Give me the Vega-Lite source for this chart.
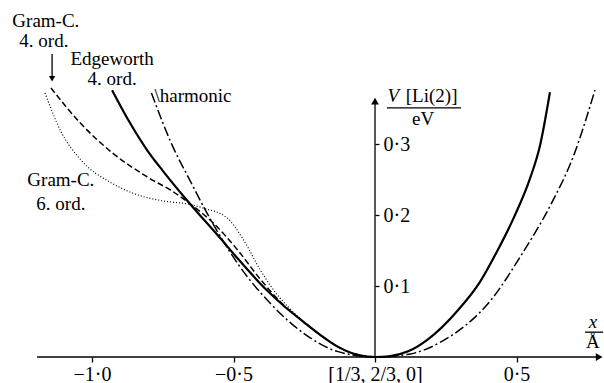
{
  "$schema": "https://vega.github.io/schema/vega-lite/v6.json",
  "width": 604,
  "height": 383,
  "autosize": {"type": "none"},
  "padding": 0,
  "background": "white",
  "config": {
    "view": {"stroke": null},
    "axis": {"grid": false, "labelFont": "Liberation Serif", "labelFontSize": 20, "labelColor": "black", "tickColor": "black", "tickWidth": 1.3, "domain": false}
  },
  "datasets": {
    "rules": [
      {"x": -1.194, "x2": 0.795, "y": 0, "y2": 0},
      {"x": 0, "x2": 0, "y": 0, "y2": 0.36},
      {"x": 0.042, "x2": 0.304, "y": 0.351, "y2": 0.351},
      {"x": 0.742, "x2": 0.806, "y": 0.035, "y2": 0.035},
      {"x": -1.141, "x2": -1.141, "y": 0.427, "y2": 0.392}
    ],
    "curves": [
      {"s": "edge", "x": -0.929, "y": 0.376},
      {"s": "edge", "x": -0.866, "y": 0.330},
      {"s": "edge", "x": -0.806, "y": 0.292},
      {"s": "edge", "x": -0.749, "y": 0.262},
      {"s": "edge", "x": -0.654, "y": 0.216},
      {"s": "edge", "x": -0.548, "y": 0.168},
      {"s": "edge", "x": -0.488, "y": 0.140},
      {"s": "edge", "x": -0.382, "y": 0.094},
      {"s": "edge", "x": -0.325, "y": 0.073},
      {"s": "edge", "x": -0.254, "y": 0.050},
      {"s": "edge", "x": -0.19, "y": 0.030},
      {"s": "edge", "x": -0.134, "y": 0.015},
      {"s": "edge", "x": -0.078, "y": 0.005},
      {"s": "edge", "x": -0.03, "y": 0.0007},
      {"s": "edge", "x": 0, "y": 0},
      {"s": "edge", "x": 0.05, "y": 0.001},
      {"s": "edge", "x": 0.117, "y": 0.008},
      {"s": "edge", "x": 0.187, "y": 0.025},
      {"s": "edge", "x": 0.293, "y": 0.066},
      {"s": "edge", "x": 0.371, "y": 0.106},
      {"s": "edge", "x": 0.43, "y": 0.148},
      {"s": "edge", "x": 0.49, "y": 0.196},
      {"s": "edge", "x": 0.548, "y": 0.252},
      {"s": "edge", "x": 0.583, "y": 0.298},
      {"s": "edge", "x": 0.618, "y": 0.373},
      {"s": "harm", "x": -0.79, "y": 0.372},
      {"s": "harm", "x": -0.714, "y": 0.296},
      {"s": "harm", "x": -0.654, "y": 0.249},
      {"s": "harm", "x": -0.594, "y": 0.203},
      {"s": "harm", "x": -0.477, "y": 0.127},
      {"s": "harm", "x": -0.371, "y": 0.076},
      {"s": "harm", "x": -0.254, "y": 0.034},
      {"s": "harm", "x": -0.134, "y": 0.008},
      {"s": "harm", "x": 0, "y": 0},
      {"s": "harm", "x": 0.12, "y": 0.004},
      {"s": "harm", "x": 0.236, "y": 0.022},
      {"s": "harm", "x": 0.413, "y": 0.082},
      {"s": "harm", "x": 0.519, "y": 0.145},
      {"s": "harm", "x": 0.62, "y": 0.214},
      {"s": "harm", "x": 0.70, "y": 0.282},
      {"s": "harm", "x": 0.777, "y": 0.376},
      {"s": "gc4", "x": -1.145, "y": 0.379},
      {"s": "gc4", "x": -1.042, "y": 0.330},
      {"s": "gc4", "x": -0.926, "y": 0.287},
      {"s": "gc4", "x": -0.806, "y": 0.254},
      {"s": "gc4", "x": -0.714, "y": 0.233},
      {"s": "gc4", "x": -0.654, "y": 0.216},
      {"s": "gc4", "x": -0.572, "y": 0.189},
      {"s": "gc4", "x": -0.488, "y": 0.152},
      {"s": "gc4", "x": -0.406, "y": 0.110},
      {"s": "gc4", "x": -0.33, "y": 0.076},
      {"s": "gc4", "x": -0.254, "y": 0.050},
      {"s": "gc4", "x": -0.19, "y": 0.030},
      {"s": "gc4", "x": -0.134, "y": 0.015},
      {"s": "gc4", "x": -0.078, "y": 0.005},
      {"s": "gc4", "x": 0, "y": 0},
      {"s": "gc6", "x": -1.166, "y": 0.372},
      {"s": "gc6", "x": -1.11, "y": 0.318},
      {"s": "gc6", "x": -1.04, "y": 0.278},
      {"s": "gc6", "x": -0.93, "y": 0.245},
      {"s": "gc6", "x": -0.85, "y": 0.230},
      {"s": "gc6", "x": -0.75, "y": 0.220},
      {"s": "gc6", "x": -0.654, "y": 0.215},
      {"s": "gc6", "x": -0.608, "y": 0.210},
      {"s": "gc6", "x": -0.523, "y": 0.196},
      {"s": "gc6", "x": -0.466, "y": 0.166},
      {"s": "gc6", "x": -0.406, "y": 0.123},
      {"s": "gc6", "x": -0.346, "y": 0.088},
      {"s": "gc6", "x": -0.30, "y": 0.068},
      {"s": "gc6", "x": -0.254, "y": 0.050},
      {"s": "gc6", "x": -0.19, "y": 0.030},
      {"s": "gc6", "x": -0.134, "y": 0.015},
      {"s": "gc6", "x": -0.078, "y": 0.005},
      {"s": "gc6", "x": 0, "y": 0}
    ],
    "labels": [
      {"t": "Gram-C.", "x": -1.163, "y": 0.465},
      {"t": "4. ord.", "x": -1.170, "y": 0.437},
      {"t": "Edgeworth", "x": -0.929, "y": 0.411},
      {"t": "4. ord.", "x": -0.929, "y": 0.383},
      {"t": "\\harmonic", "x": -0.643, "y": 0.359},
      {"t": "Gram-C.", "x": -1.110, "y": 0.241},
      {"t": "6. ord.", "x": -1.110, "y": 0.207},
      {"t": "[Li(2)]", "x": 0.200, "y": 0.359},
      {"t": "eV", "x": 0.170, "y": 0.327},
      {"t": "Å", "x": 0.770, "y": 0.0127}
    ],
    "italic": [
      {"t": "V", "x": 0.065, "y": 0.359},
      {"t": "x", "x": 0.770, "y": 0.041}
    ]
  },
  "layer": [
    {
      "data": {"name": "rules"},
      "mark": {"type": "rule", "color": "black", "strokeWidth": 1.3},
      "encoding": {
        "x": {"field": "x", "type": "quantitative",
          "scale": {"domain": [-1.325, 0.809], "nice": false, "zero": false},
          "axis": {"orient": "bottom", "offset": -26, "title": null, "values": [-1, -0.5, 0, 0.5], "tickSize": 5, "labelPadding": 2, "labelOverlap": false, "labelBound": false, "labelFlush": false,
            "labelExpr": "datum.value == 0 ? '[1/3, 2/3, 0]' : replace(format(datum.value, '.1f'), '.', '·')"}},
        "y": {"field": "y", "type": "quantitative",
          "scale": {"domain": [-0.0366, 0.503], "nice": false, "zero": false},
          "axis": {"orient": "right", "offset": -229, "title": null, "values": [0.1, 0.2, 0.3], "tickSize": 4, "labelPadding": 4, "labelOverlap": false, "labelBound": false, "labelFlush": false,
            "labelExpr": "replace(format(datum.value, '.1f'), '.', '·')"}},
        "x2": {"field": "x2"},
        "y2": {"field": "y2"}
      }
    },
    {
      "data": {"name": "curves"},
      "transform": [{"filter": "datum.s == 'edge'"}],
      "mark": {"type": "line", "color": "black", "strokeWidth": 2.2, "interpolate": "monotone"},
      "encoding": {"x": {"field": "x", "type": "quantitative"}, "y": {"field": "y", "type": "quantitative"}}
    },
    {
      "data": {"name": "curves"},
      "transform": [{"filter": "datum.s == 'gc4'"}],
      "mark": {"type": "line", "color": "black", "strokeWidth": 1.5, "strokeDash": [6, 3], "interpolate": "monotone"},
      "encoding": {"x": {"field": "x", "type": "quantitative"}, "y": {"field": "y", "type": "quantitative"}}
    },
    {
      "data": {"name": "curves"},
      "transform": [{"filter": "datum.s == 'gc6'"}],
      "mark": {"type": "line", "color": "black", "strokeWidth": 1.2, "strokeDash": [1, 2], "interpolate": "monotone"},
      "encoding": {"x": {"field": "x", "type": "quantitative"}, "y": {"field": "y", "type": "quantitative"}}
    },
    {
      "data": {"name": "curves"},
      "transform": [{"filter": "datum.s == 'harm'"}],
      "mark": {"type": "line", "color": "black", "strokeWidth": 1.5, "strokeDash": [10, 3, 2, 3], "interpolate": "monotone"},
      "encoding": {"x": {"field": "x", "type": "quantitative"}, "y": {"field": "y", "type": "quantitative"}}
    },
    {
      "data": {"values": [{"x": 0.792, "y": 0}]},
      "mark": {"type": "point", "shape": "triangle-right", "filled": true, "color": "black", "size": 60, "opacity": 1},
      "encoding": {"x": {"field": "x", "type": "quantitative"}, "y": {"field": "y", "type": "quantitative"}}
    },
    {
      "data": {"values": [{"x": 0, "y": 0.3606}]},
      "mark": {"type": "point", "shape": "triangle-up", "filled": true, "color": "black", "size": 60, "opacity": 1},
      "encoding": {"x": {"field": "x", "type": "quantitative"}, "y": {"field": "y", "type": "quantitative"}}
    },
    {
      "data": {"values": [{"x": -1.141, "y": 0.392}]},
      "mark": {"type": "point", "shape": "triangle-down", "filled": true, "color": "black", "size": 40, "opacity": 1},
      "encoding": {"x": {"field": "x", "type": "quantitative"}, "y": {"field": "y", "type": "quantitative"}}
    },
    {
      "data": {"name": "labels"},
      "mark": {"type": "text", "align": "center", "baseline": "alphabetic", "font": "Liberation Serif", "fontSize": 19, "color": "black"},
      "encoding": {"x": {"field": "x", "type": "quantitative"}, "y": {"field": "y", "type": "quantitative"}, "text": {"field": "t"}}
    },
    {
      "data": {"name": "italic"},
      "mark": {"type": "text", "align": "center", "baseline": "alphabetic", "fontStyle": "italic", "font": "Liberation Serif", "fontSize": 19, "color": "black"},
      "encoding": {"x": {"field": "x", "type": "quantitative"}, "y": {"field": "y", "type": "quantitative"}, "text": {"field": "t"}}
    }
  ]
}
